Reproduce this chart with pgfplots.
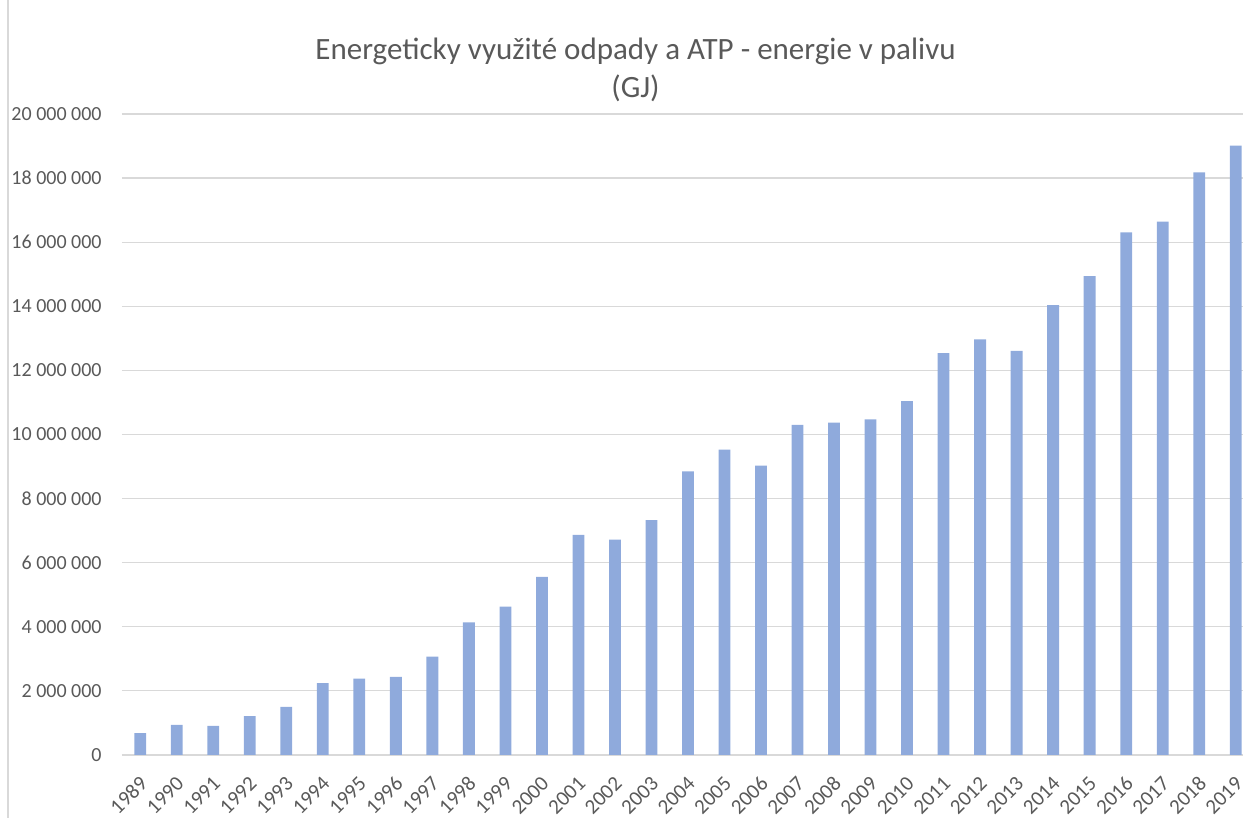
\documentclass[border=0pt]{standalone}
\usepackage{pgfplots}
\pgfplotsset{compat=1.18}
\usepackage{fontspec}
\setmainfont{Carlito}
\definecolor{barblue}{HTML}{8FAADC}
\definecolor{gridgray}{HTML}{D9D9D9}
\definecolor{txtgray}{HTML}{595959}
\begin{document}
\begin{tikzpicture}
\path[use as bounding box] (-61pt,-31.5pt) rectangle (565.5pt,377.5pt);
\draw[gridgray,line width=0.6pt] (-57pt,-31.5pt) -- (-57pt,377.5pt);
\begin{axis}[
  at={(0,0)}, anchor=south west,
  scale only axis, width=560.5pt, height=320.5pt,
  xmin=-0.5, xmax=30.2, ymin=0, ymax=20000000,
  axis line style={draw=none},
  ytick={0,2000000,...,20000000},
  ymajorgrids, grid style={gridgray, line width=0.6pt},
  major tick length=0pt,
  scaled y ticks=false,
  /pgf/number format/.cd, assume math mode=true, fixed, precision=0, 1000 sep={~},
  /pgfplots/.cd,
  yticklabel style={font=\fontsize{10}{12}\selectfont, text=txtgray, inner sep=0pt, xshift=-10pt},
  xtick=data,
  xticklabels={1989,1990,1991,1992,1993,1994,1995,1996,1997,1998,1999,2000,2001,2002,2003,2004,2005,2006,2007,2008,2009,2010,2011,2012,2013,2014,2015,2016,2017,2018,2019},
  xticklabel style={font=\fontsize{10.5}{12}\selectfont, text=txtgray, inner sep=0pt, xshift=1.8pt, yshift=-12.5pt, rotate=45, anchor=east},
  clip=false,
]
\addplot[ybar, bar width=5.9pt, fill=barblue, draw=none] coordinates {
(0,680000) (1,940000) (2,910000) (3,1210000) (4,1500000)
(5,2240000) (6,2380000) (7,2440000) (8,3070000) (9,4140000)
(10,4630000) (11,5560000) (12,6870000) (13,6720000) (14,7330000)
(15,8850000) (16,9530000) (17,9030000) (18,10300000) (19,10370000)
(20,10470000) (21,11040000) (22,12540000) (23,12970000) (24,12610000)
(25,14040000) (26,14940000) (27,16310000) (28,16640000) (29,18180000)
(30,19010000)
};
\end{axis}
\node[font=\fontsize{15.5}{19}\selectfont, text=txtgray, align=center] at (256.75pt,342.5pt)
  {Energeticky využité odpady a ATP - energie v palivu\\(GJ)};
\end{tikzpicture}
\end{document}
